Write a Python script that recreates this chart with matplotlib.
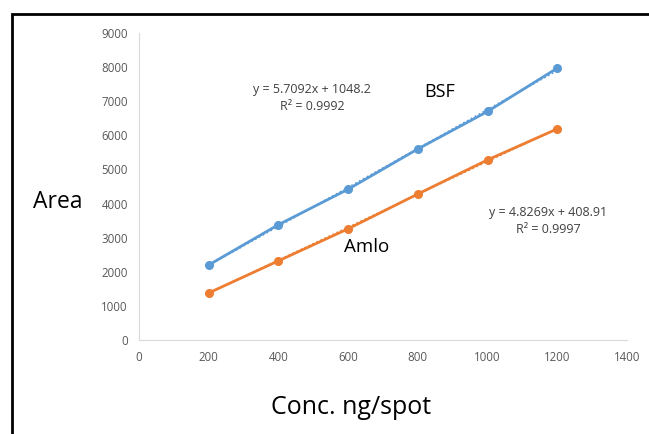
import matplotlib
matplotlib.use("Agg")
import matplotlib.pyplot as plt
from matplotlib.patches import Rectangle
import numpy as np

conc = [200, 400, 600, 800, 1000, 1200]
bsf_area = [2200, 3380, 4420, 5600, 6700, 7970]
amlo_area = [1380, 2320, 3260, 4280, 5280, 6190]
bsf_fit = (5.7092, 1048.2)
amlo_fit = (4.8269, 408.91)
x_ticks = [0, 200, 400, 600, 800, 1000, 1200, 1400]
y_ticks = [0, 1000, 2000, 3000, 4000, 5000, 6000, 7000, 8000, 9000]

W, H = 649, 434
fig = plt.figure(figsize=(W / 100, H / 100), dpi=100)
fig.patch.set_facecolor("white")

# outer border
fig.patches.append(Rectangle((12 / W, -0.05), 1.1, 1 - 14 / H + 0.05,
                             transform=fig.transFigure, fill=False,
                             edgecolor="black", linewidth=2))

ax = fig.add_axes([139 / W, 1 - 340 / H, (627 - 139) / W, (340 - 33) / H])

blue = "#5B9BD5"
orange = "#ED7D31"

ax.plot(conc, bsf_area, color=blue, lw=2, marker="o", ms=5.5, zorder=3)
ax.plot(conc, amlo_area, color=orange, lw=2, marker="o", ms=5.5, zorder=3)
xf = np.array([conc[0], conc[-1]])
ax.plot(xf, bsf_fit[0] * xf + bsf_fit[1], color=blue, lw=1.2, ls=":", zorder=4)
ax.plot(xf, amlo_fit[0] * xf + amlo_fit[1], color=orange, lw=1.2, ls=":", zorder=4)

ax.set_xlim(0, 1400)
ax.set_ylim(0, 9000)
ax.set_xticks(x_ticks)
ax.set_yticks(y_ticks)
ax.tick_params(length=0, labelsize=8.3, colors="#595959", pad=8)
for lab in ax.get_xticklabels() + ax.get_yticklabels():
    lab.set_family("Open Sans")
ax.spines["top"].set_visible(False)
ax.spines["right"].set_visible(False)
ax.spines["left"].set_color("#D9D9D9")
ax.spines["bottom"].set_color("#D9D9D9")

fig.text(58 / W, 1 - 202 / H, "Area", fontsize=16.5, family="Open Sans",
         ha="center", va="center")
fig.text(351 / W, 1 - 408 / H, "Conc. ng/spot", fontsize=18, family="Open Sans",
         ha="center", va="center")

fig.text(312 / W, 1 - 98 / H, "y = 5.7092x + 1048.2\nR² = 0.9992", fontsize=9,
         family="Open Sans", color="#404040", ha="center", va="center",
         linespacing=1.35)
fig.text(548 / W, 1 - 221 / H, "y = 4.8269x + 408.91\nR² = 0.9997", fontsize=9,
         family="Open Sans", color="#404040", ha="center", va="center",
         linespacing=1.35)
fig.text(440 / W, 1 - 92 / H, "BSF", fontsize=13, family="Open Sans",
         ha="center", va="center")
fig.text(367 / W, 1 - 247 / H, "Amlo", fontsize=13.5, family="Open Sans",
         ha="center", va="center")

fig.savefig("out.png", dpi=100)
